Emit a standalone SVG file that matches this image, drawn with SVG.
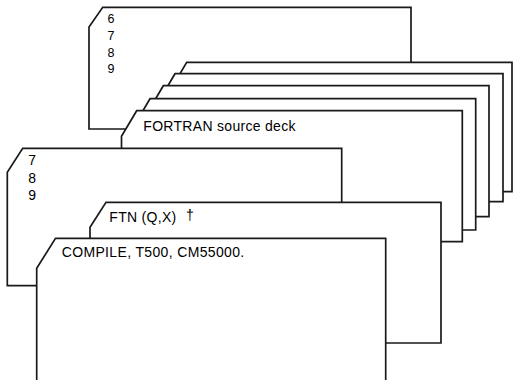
<svg xmlns="http://www.w3.org/2000/svg" width="513" height="380" viewBox="0 0 513 380">
<style>
.card{fill:#fff;stroke:#1a1a1a;stroke-width:1.7;stroke-linejoin:miter}
.t{font-family:"Liberation Sans",Arial,sans-serif;fill:#000;font-size:14px}
.s{font-size:12.5px}
</style>
<rect width="513" height="380" fill="#fff"/>
<g id="card-6789">
<path class="card" d="M102.7,7.3 H411 V129 H89 V27 Z"/>
<text class="t s" x="107.5" y="23.3">6</text>
<text class="t s" x="107.5" y="40">7</text>
<text class="t s" x="107.5" y="56.7">8</text>
<text class="t s" x="107.5" y="73.3">9</text>
</g>
<g id="deck-card-1"><path class="card" d="M186.7,62.3 H512 V191.7 H171.7 V87.8 Z"/></g>
<g id="deck-card-2"><path class="card" d="M175,73.7 H503 V201.7 H160 V99.2 Z"/></g>
<g id="deck-card-3"><path class="card" d="M163.3,85.7 H489 V216.7 H148.3 V111.2 Z"/></g>
<g id="deck-card-4"><path class="card" d="M150,98.7 H475.7 V230 H135 V124.2 Z"/></g>
<g id="fortran-deck">
<path class="card" d="M136.7,110.7 H462.3 V241.7 H121.5 V136.2 Z"/>
<text class="t" x="143.3" y="130.7" letter-spacing="0.3">FORTRAN source deck</text>
</g>
<g id="card-789">
<path class="card" d="M22.7,148.3 H341.7 V285.7 H7.3 V172.3 Z"/>
<text class="t" x="28.3" y="165.3">7</text>
<text class="t" x="28.3" y="183">8</text>
<text class="t" x="28.3" y="199.7">9</text>
</g>
<g id="ftn-card">
<path class="card" d="M106,202.3 H441 V343 H90 V227.3 Z"/>
<text class="t" x="109.3" y="221.7" letter-spacing="0.3">FTN (Q,X)</text>
<text class="t" x="186" y="219.5">†</text>
</g>
<g id="compile-card">
<path class="card" d="M55.5,238.3 H385.7 V400 H36.7 V268.3 Z"/>
<text class="t" x="61.7" y="257.3" letter-spacing="0.35">COMPILE, T500, CM55000.</text>
</g>
<g id="connectors"/>
</svg>
